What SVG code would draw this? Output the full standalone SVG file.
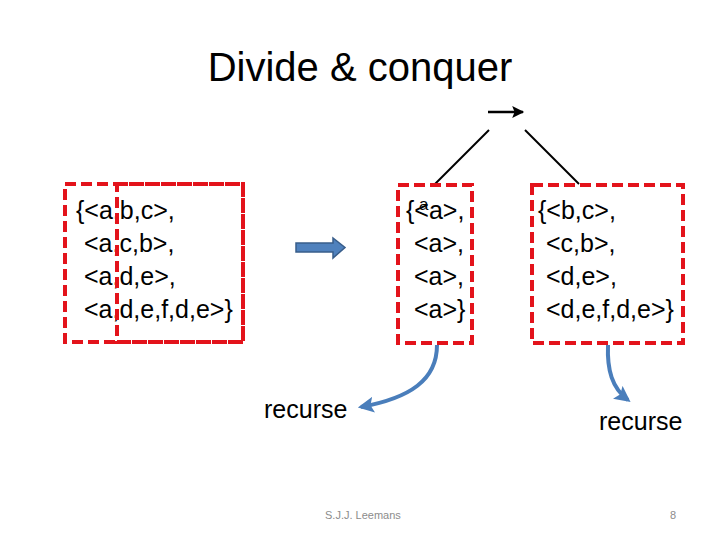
<svg xmlns="http://www.w3.org/2000/svg" width="720" height="540" viewBox="0 0 720 540">
<style>
text{font-family:"Liberation Sans",Arial,sans-serif;fill:#000}
.t{font-size:25px}
.box{fill:none;stroke:#e3131b;stroke-width:4;stroke-dasharray:11 5}
.con{fill:none;stroke:#000;stroke-width:2}
.blue{fill:none;stroke:#4a7ebb;stroke-width:4}
.foot{font-size:11px;fill:#8c8c8c}
</style>
<defs>
<marker id="ah" viewBox="0 0 10 10" refX="9" refY="5" markerWidth="13" markerHeight="12" markerUnits="userSpaceOnUse" orient="auto"><path d="M0,0 L10,5 L0,10 L2,5 z" fill="#000"/></marker>
<marker id="bh" viewBox="0 0 10 10" refX="8" refY="5" markerWidth="4" markerHeight="4" orient="auto"><path d="M0,0 L10,5 L0,10 L2,5 z" fill="#4a7ebb"/></marker>
</defs>
<text x="360" y="81" font-size="40" text-anchor="middle">Divide &amp; conquer</text>
<g id="connectors">
<line x1="488" y1="112" x2="523" y2="112" stroke="#000" stroke-width="2.5" marker-end="url(#ah)"/>
<line class="con" x1="489" y1="130" x2="435" y2="184"/>
<line class="con" x1="525" y1="130" x2="579" y2="184"/>
<path class="blue" d="M437,345 C437,380 410,398 361,407" marker-end="url(#bh)"/>
<path class="blue" d="M608,345 C607,370 612,388 628,400" marker-end="url(#bh)"/>
</g>
<g id="left">
<text class="t" x="76" y="219">{&lt;a,b,c&gt;,</text>
<text class="t" x="84" y="252">&lt;a,c,b&gt;,</text>
<text class="t" x="84" y="285">&lt;a,d,e&gt;,</text>
<text class="t" x="84" y="318">&lt;a,d,e,f,d,e&gt;}</text>
<rect class="box" x="65" y="184" width="178" height="158"/>
<rect class="box" x="117" y="184" width="126" height="158"/>
</g>
<g id="blockarrow">
<path d="M296,243 L333,243 L333,238 L345,247.5 L333,258 L333,252 L296,252 z" fill="#4f81bd" stroke="#385d8a" stroke-width="1.5"/>
</g>
<g id="middle">
<text class="t" x="406" y="219">{&lt;a&gt;,</text>
<text x="419" y="210" font-size="17">a</text>
<text class="t" x="414" y="252">&lt;a&gt;,</text>
<text class="t" x="414" y="285">&lt;a&gt;,</text>
<text class="t" x="414" y="318">&lt;a&gt;}</text>
<rect class="box" x="398" y="185" width="74" height="158"/>
</g>
<g id="right">
<text class="t" x="538" y="219">{&lt;b,c&gt;,</text>
<text class="t" x="546" y="252">&lt;c,b&gt;,</text>
<text class="t" x="546" y="285">&lt;d,e&gt;,</text>
<text class="t" x="546" y="318">&lt;d,e,f,d,e&gt;}</text>
<rect class="box" x="532" y="185" width="151" height="158"/>
</g>
<g id="labels">
<text class="t" x="264" y="418">recurse</text>
<text class="t" x="599" y="430">recurse</text>
</g>
<text class="foot" x="325" y="519">S.J.J. Leemans</text>
<text class="foot" x="670" y="519">8</text>
</svg>
